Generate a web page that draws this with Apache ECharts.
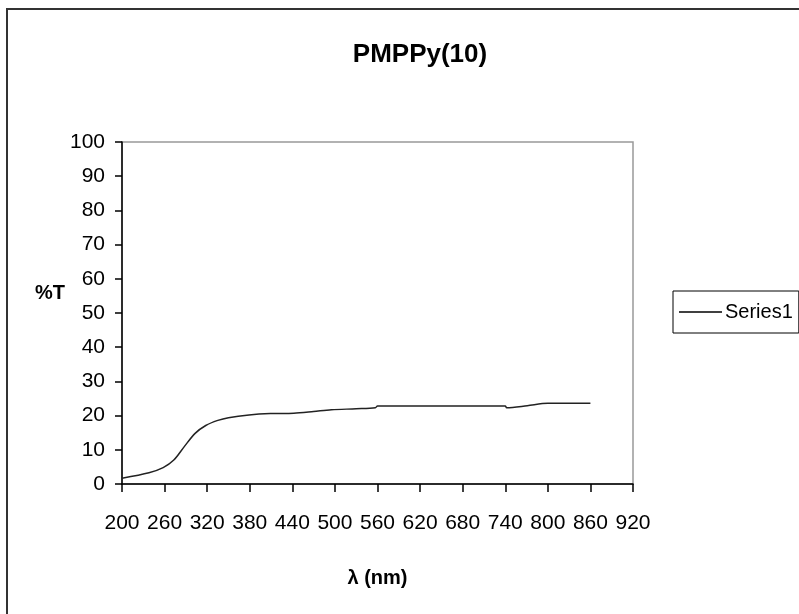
<!DOCTYPE html>
<html><head><meta charset="utf-8">
<script src="https://cdn.jsdelivr.net/npm/echarts@6/dist/echarts.min.js"></script>
<style>html,body{margin:0;padding:0;background:#fff}#c{width:799px;height:614px}</style>
</head><body><div id="c"></div>
<script>
var wavelength = [200, 238, 258, 273, 288, 303, 318, 335, 350, 379, 409, 442, 470, 495, 530, 557, 560, 620, 680, 740, 742, 771, 800, 830, 860];
var transmittance = [1.7, 3.3, 4.8, 7.0, 11.0, 14.8, 17.1, 18.6, 19.4, 20.2, 20.6, 20.7, 21.2, 21.7, 22.0, 22.3, 22.8, 22.8, 22.8, 22.8, 22.3, 22.9, 23.6, 23.6, 23.6];
var xTicks = {min: 200, max: 920, step: 60};
var yTicks = {min: 0, max: 100, step: 10};
var FONT = '"Liberation Sans", Arial, sans-serif';
var chart = echarts.init(document.getElementById('c'));
chart.setOption({
  animation: false,
  title: {text: 'PMPPy(10)', left: 415, top: 37, textAlign: 'center',
    textStyle: {fontFamily: FONT, fontWeight: 'bold', fontSize: 26, color: '#000'}},
  graphic: [
    {type: 'rect', shape: {x: 7, y: 9, width: 900, height: 700}, style: {fill: 'none', stroke: '#333', lineWidth: 2}},
    {type: 'text', left: 35, top: 283, style: {text: '%T', font: 'bold 20px ' + FONT, fill: '#000'}}
  ],
  legend: {left: 673, top: 291, orient: 'vertical', icon: 'rect', itemWidth: 43, itemHeight: 1.5, itemGap: 0,
    padding: [11, 6, 11, 6], borderColor: '#000', borderWidth: 1,
    itemStyle: {color: '#000'},
    textStyle: {fontFamily: FONT, fontSize: 20, color: '#000', padding: [0, 0, 0, -2]}},
  grid: {left: 122, top: 142, width: 511, height: 342, show: true, borderColor: '#999', borderWidth: 1.5, backgroundColor: 'transparent'},
  xAxis: {type: 'value', min: xTicks.min, max: xTicks.max, interval: xTicks.step,
    name: 'λ (nm)', nameLocation: 'middle', nameGap: 84,
    nameTextStyle: {fontFamily: FONT, fontWeight: 'bold', fontSize: 20, color: '#000'},
    axisLine: {show: true, lineStyle: {color: '#000', width: 1.5}},
    axisTick: {show: true, length: 8, lineStyle: {color: '#000', width: 1.5}},
    axisLabel: {margin: 29, fontFamily: FONT, fontSize: 21, color: '#000'},
    splitLine: {show: false}},
  yAxis: {type: 'value', min: yTicks.min, max: yTicks.max, interval: yTicks.step,
    axisLine: {show: true, lineStyle: {color: '#000', width: 1.5}},
    axisTick: {show: true, length: 7, lineStyle: {color: '#000', width: 1.5}},
    axisLabel: {margin: 17, fontFamily: FONT, fontSize: 21, color: '#000'},
    splitLine: {show: false}},
  series: [{name: 'Series1', type: 'line', symbol: 'none', smooth: 0.3,
    lineStyle: {color: '#222', width: 1.5}, itemStyle: {color: '#222'},
    data: wavelength.map(function (w, i) { return [w, transmittance[i]]; })}]
});
</script></body></html>
